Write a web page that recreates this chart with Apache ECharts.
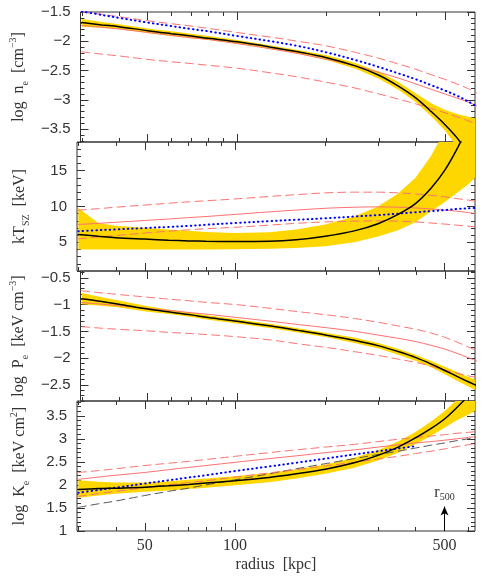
<!DOCTYPE html>
<html>
<head>
<meta charset="utf-8">
<script src="https://cdn.jsdelivr.net/npm/echarts@6/dist/echarts.min.js"></script>
<style>
  html, body { margin: 0; padding: 0; background: #fff; }
  #chart { width: 491px; height: 582px; }
</style>
</head>
<body>
<div id="chart"></div>
<script>
// radius grid (kpc) the curves were read at
const radius = [30, 35, 40, 50, 60, 70, 80, 100, 130, 160, 200, 250, 300, 350, 400, 450, 500, 550, 600, 640];

// log n_e
const neFit     = [-1.68, -1.72, -1.75, -1.82, -1.87, -1.91, -1.95, -2.01, -2.10, -2.18, -2.28, -2.42, -2.58, -2.77, -2.97, -3.20, -3.42, -3.65, -3.92, -4.15];
const neLow     = [-1.75, -1.77, -1.79, -1.86, -1.91, -1.95, -1.98, -2.04, -2.13, -2.21, -2.32, -2.47, -2.64, -2.83, -3.04, -3.28, -3.52, -3.80, -4.10, -4.40];
const neHigh    = [-1.62, -1.67, -1.71, -1.78, -1.83, -1.87, -1.91, -1.98, -2.07, -2.15, -2.24, -2.37, -2.52, -2.70, -2.89, -3.06, -3.17, -3.24, -3.29, -3.32];
const neModel   = [-1.73, -1.76, -1.79, -1.85, -1.90, -1.94, -1.97, -2.04, -2.13, -2.21, -2.31, -2.42, -2.53, -2.63, -2.73, -2.82, -2.90, -2.97, -3.04, -3.10];
const neModelHi = [-1.50, -1.54, -1.58, -1.65, -1.70, -1.74, -1.78, -1.85, -1.93, -2.00, -2.08, -2.19, -2.29, -2.39, -2.48, -2.57, -2.65, -2.73, -2.81, -2.88];
const neModelLo = [-2.18, -2.22, -2.25, -2.31, -2.35, -2.38, -2.41, -2.46, -2.54, -2.61, -2.70, -2.80, -2.90, -2.99, -3.07, -3.15, -3.22, -3.29, -3.36, -3.41];
const neXray    = [-1.49, -1.55, -1.60, -1.68, -1.74, -1.79, -1.83, -1.91, -2.00, -2.08, -2.19, -2.32, -2.44, -2.55, -2.65, -2.75, -2.84, -2.93, -3.03, -3.11];

// kT_SZ (keV)
const tFit     = [6.1, 5.85, 5.65, 5.45, 5.3, 5.2, 5.15, 5.12, 5.15, 5.35, 5.85, 6.6, 7.6, 8.9, 10.4, 12.5, 15.0, 18.0, 21.3, 24.0];
const tLow     = [4.0, 4.0, 4.0, 4.0, 4.0, 4.0, 4.0, 4.05, 4.1, 4.2, 4.45, 5.0, 5.8, 6.7, 7.8, 9.3, 10.6, 11.9, 13.1, 14.2];
const tHigh    = [9.8, 7.7, 7.3, 7.05, 6.8, 6.6, 6.45, 6.3, 6.4, 6.8, 7.5, 8.6, 10.0, 11.8, 14.0, 17.0, 20.5, 24.0, 28.0, 31.0];
const tModel   = [7.5, 7.65, 7.8, 8.05, 8.25, 8.45, 8.6, 8.9, 9.25, 9.5, 9.75, 9.9, 9.95, 9.9, 9.8, 9.65, 9.5, 9.35, 9.15, 9.0];
const tModelHi = [9.5, 9.7, 9.9, 10.2, 10.45, 10.65, 10.8, 11.05, 11.4, 11.65, 11.9, 12.0, 12.0, 11.9, 11.75, 11.55, 11.35, 11.1, 10.9, 10.7];
const tModelLo = [5.5, 5.75, 5.95, 6.3, 6.55, 6.75, 6.9, 7.1, 7.4, 7.65, 7.85, 7.95, 8.0, 7.95, 7.85, 7.7, 7.55, 7.4, 7.25, 7.15];
const tXray    = [6.55, 6.7, 6.8, 7.0, 7.15, 7.3, 7.45, 7.7, 7.95, 8.15, 8.35, 8.6, 8.8, 9.0, 9.2, 9.35, 9.5, 9.65, 9.75, 9.8];

// log P_e
const pFit     = [-0.89, -0.94, -0.99, -1.08, -1.14, -1.19, -1.24, -1.31, -1.40, -1.48, -1.57, -1.67, -1.77, -1.88, -1.99, -2.11, -2.23, -2.34, -2.44, -2.51];
const pLow     = [-0.99, -1.02, -1.05, -1.13, -1.18, -1.23, -1.28, -1.35, -1.44, -1.52, -1.61, -1.72, -1.82, -1.94, -2.05, -2.17, -2.30, -2.42, -2.53, -2.61];
const pHigh    = [-0.78, -0.86, -0.92, -1.03, -1.10, -1.15, -1.20, -1.27, -1.36, -1.44, -1.53, -1.62, -1.72, -1.83, -1.94, -2.05, -2.16, -2.26, -2.35, -2.41];
const pModel   = [-0.96, -0.99, -1.02, -1.07, -1.11, -1.15, -1.18, -1.24, -1.31, -1.37, -1.43, -1.50, -1.57, -1.63, -1.69, -1.76, -1.83, -1.91, -1.99, -2.05];
const pModelHi = [-0.74, -0.78, -0.81, -0.86, -0.90, -0.93, -0.96, -1.00, -1.07, -1.13, -1.19, -1.26, -1.33, -1.40, -1.46, -1.53, -1.61, -1.70, -1.79, -1.86];
const pModelLo = [-1.41, -1.44, -1.46, -1.49, -1.52, -1.54, -1.56, -1.60, -1.66, -1.73, -1.80, -1.88, -1.95, -2.02, -2.08, -2.15, -2.22, -2.28, -2.33, -2.36];

// log K_e
const kFit     = [1.90, 1.92, 1.93, 1.95, 1.98, 2.01, 2.04, 2.09, 2.16, 2.24, 2.34, 2.48, 2.64, 2.82, 3.02, 3.22, 3.43, 3.68, 3.93, 4.12];
const kLow     = [1.72, 1.77, 1.81, 1.85, 1.88, 1.91, 1.94, 1.99, 2.06, 2.14, 2.24, 2.37, 2.53, 2.70, 2.88, 3.06, 3.24, 3.40, 3.52, 3.62];
const kHigh    = [2.10, 2.07, 2.05, 2.05, 2.08, 2.11, 2.14, 2.19, 2.26, 2.34, 2.44, 2.59, 2.75, 2.94, 3.15, 3.37, 3.60, 3.85, 4.10, 4.30];
const kModel   = [2.12, 2.17, 2.21, 2.27, 2.33, 2.38, 2.42, 2.49, 2.57, 2.63, 2.70, 2.76, 2.82, 2.87, 2.91, 2.94, 2.97, 3.00, 3.03, 3.05];
const kModelHi = [2.27, 2.31, 2.35, 2.42, 2.47, 2.51, 2.55, 2.62, 2.70, 2.76, 2.82, 2.88, 2.94, 2.99, 3.03, 3.06, 3.09, 3.12, 3.14, 3.16];
const kModelLo = [1.75, 1.81, 1.86, 1.94, 2.00, 2.05, 2.09, 2.17, 2.26, 2.33, 2.41, 2.49, 2.56, 2.62, 2.68, 2.73, 2.78, 2.83, 2.87, 2.90];
const kBase    = [1.51, 1.59, 1.65, 1.77, 1.86, 1.93, 2.00, 2.11, 2.24, 2.35, 2.46, 2.57, 2.66, 2.73, 2.80, 2.86, 2.91, 2.96, 3.00, 3.04];
const kXray    = [1.83, 1.89, 1.94, 2.03, 2.10, 2.16, 2.21, 2.30, 2.40, 2.48, 2.57, 2.66, 2.73, 2.79, 2.84, null, null, null, null, null];

// axis ticks
const majorR = [50, 100, 500];
const minorR = [30, 40, 60, 70, 80, 90, 200, 300, 400, 600];
const r500 = 500;

const lg = Math.log10;
const xMin = lg(29.7), xMax = lg(632);
const GOLD = 'rgb(255,215,0)';
const RED = '#ff7070';
const AXC = '#333';

// panel layout
const panels = [
  { top: 12,  height: 130, min: -3.72, max: -1.5,  labels: [-3.5, -3, -2.5, -2, -1.5], minorStep: 0.1,
    name: '{t|log  n}{sub|e}{t|  [cm}{sup|−3}{t|]}' },
  { top: 142, height: 129, min: 1,     max: 19,    labels: [5, 10, 15], minorStep: 1,
    name: '{t|kT}{sub|SZ}{t|  [keV]}' },
  { top: 271, height: 130, min: -2.8,  max: -0.37, labels: [-2.5, -2, -1.5, -1, -0.5], minorStep: 0.1,
    name: '{t|log  P}{sub|e}{t|  [keV cm}{sup|−3}{t|]}' },
  { top: 401, height: 130, min: 1,     max: 3.82,  labels: [1, 1.5, 2, 2.5, 3, 3.5], minorStep: 0.1,
    name: '{t|log  K}{sub|e}{t|  [keV cm}{sup|2}{t|]}' }
];

function steps(min, max, step) {
  const out = [];
  const start = Math.ceil(min / step - 1e-9);
  for (let i = start; i * step <= max + 1e-9; i++) out.push(+(i * step).toFixed(4));
  return out;
}

const rich = {
  t: { fontFamily: 'Liberation Serif', fontSize: 16, color: AXC, lineHeight: 22 },
  sub: { fontFamily: 'Liberation Serif', fontSize: 10, color: AXC, verticalAlign: 'bottom', lineHeight: 10 },
  sup: { fontFamily: 'Liberation Serif', fontSize: 10, color: AXC, verticalAlign: 'top', lineHeight: 10 }
};

const grid = [], xAxis = [], yAxis = [];
panels.forEach((p, k) => {
  grid.push({ left: 77, right: 16, top: p.top, height: p.height, show: true,
    borderColor: AXC, borderWidth: 1, backgroundColor: 'transparent' });
  ['bottom', 'top'].forEach(pos => {
    [[majorR, 8], [minorR, 4]].forEach(([vals, len], j) => {
      const showLab = k === 3 && pos === 'bottom' && j === 0;
      xAxis.push({
        type: 'value', gridIndex: k, position: pos, min: xMin, max: xMax,
        axisLine: { show: false }, splitLine: { show: false },
        axisTick: { show: true, inside: true, length: len, customValues: vals.map(lg),
          lineStyle: { color: AXC, width: 1 } },
        axisLabel: showLab ? {
          show: true, customValues: vals.map(lg), margin: 7,
          fontFamily: 'Liberation Serif', fontSize: 16, color: AXC,
          formatter: v => String(Math.round(Math.pow(10, v)))
        } : { show: false },
        name: showLab ? 'radius  [kpc]' : '', nameLocation: 'middle', nameGap: 26,
        nameTextStyle: { fontFamily: 'Liberation Serif', fontSize: 16, color: AXC }
      });
    });
  });
  ['left', 'right'].forEach(pos => {
    [[p.labels, 8], [steps(p.min, p.max, p.minorStep), 4]].forEach(([vals, len], j) => {
      const showLab = pos === 'left' && j === 0;
      yAxis.push({
        type: 'value', gridIndex: k, position: pos, min: p.min, max: p.max,
        axisLine: { show: false }, splitLine: { show: false },
        axisTick: { show: true, inside: true, length: len, customValues: vals,
          lineStyle: { color: AXC, width: 1 } },
        axisLabel: showLab ? {
          show: true, customValues: vals, margin: 10,
          fontFamily: 'Liberation Sans', fontSize: 15, color: AXC,
          formatter: v => String(v).replace('-', '−')
        } : { show: false },
        name: showLab ? p.name : '', nameLocation: 'middle', nameRotate: 90, nameGap: 46,
        nameTextStyle: { rich: rich }
      });
    });
  });
});

// each grid k uses xAxis 4k and yAxis 4k
const pts = vals => radius.map((r, i) => [lg(r), vals[i]]);
const series = [];

// confidence band drawn as one clipped polygon between lo and hi
function band(k, lo, hi) {
  series.push({
    type: 'custom', xAxisIndex: 4 * k, yAxisIndex: 4 * k, silent: true, z: 1,
    data: [[lg(radius[0]), lo[0]]],
    renderItem: (params, api) => {
      const upper = radius.map((r, i) => api.coord([lg(r), hi[i]]));
      const lower = radius.map((r, i) => api.coord([lg(r), lo[i]])).reverse();
      const cs = params.coordSys;
      return {
        type: 'polygon',
        shape: { points: upper.concat(lower) },
        style: { fill: GOLD, stroke: null },
        clipPath: { type: 'rect', shape: { x: cs.x, y: cs.y, width: cs.width, height: cs.height } }
      };
    }
  });
}

function curve(k, vals, color, width, type, extra) {
  series.push(Object.assign({
    type: 'line', xAxisIndex: 4 * k, yAxisIndex: 4 * k, data: pts(vals),
    symbol: 'none', smooth: 0.35, connectNulls: false,
    lineStyle: { color: color, width: width, type: type, cap: 'round' }, z: 3, silent: true
  }, extra || {}));
}

const DASH = [8, 5];
const DOT = [0.5, 4];

// panel 1: n_e
band(0, neLow, neHigh);
curve(0, neModel, RED, 1, 'solid');
curve(0, neModelHi, RED, 1, DASH);
curve(0, neModelLo, RED, 1, DASH);
curve(0, neXray, '#0000ff', 2, DOT);
curve(0, neFit, '#000', 1.5, 'solid');

// panel 2: kT
band(1, tLow, tHigh);
curve(1, tModel, RED, 1, 'solid');
curve(1, tModelHi, RED, 1, DASH);
curve(1, tModelLo, RED, 1, DASH);
curve(1, tXray, '#0000ff', 2, DOT);
curve(1, tFit, '#000', 1.5, 'solid');

// panel 3: P_e
band(2, pLow, pHigh);
curve(2, pModel, RED, 1, 'solid');
curve(2, pModelHi, RED, 1, DASH);
curve(2, pModelLo, RED, 1, DASH);
curve(2, pFit, '#000', 1.5, 'solid');

// panel 4: K_e
band(3, kLow, kHigh);
curve(3, kBase, '#555', 1, DASH);
curve(3, kModel, RED, 1, 'solid');
curve(3, kModelHi, RED, 1, DASH);
curve(3, kModelLo, RED, 1, DASH);
curve(3, kXray, '#0000ff', 2, DOT);
curve(3, kFit, '#000', 1.5, 'solid', {
  markLine: {
    silent: true, symbol: ['none', 'arrow'], symbolSize: [6, 9],
    lineStyle: { color: '#000', width: 1, type: 'solid' },
    label: {
      show: true, position: 'end', distance: 4,
      formatter: '{r|r}{s|500}',
      rich: {
        r: { fontFamily: 'Liberation Serif', fontSize: 16, color: AXC, lineHeight: 20 },
        s: { fontFamily: 'Liberation Serif', fontSize: 10, color: AXC, verticalAlign: 'bottom', lineHeight: 10 }
      }
    },
    data: [[{ coord: [lg(r500), 1] }, { coord: [lg(r500), 1.53] }]]
  }
});

const chart = echarts.init(document.getElementById('chart'), null, { renderer: 'canvas' });
chart.setOption({
  animation: false,
  backgroundColor: '#fff',
  grid: grid,
  xAxis: xAxis,
  yAxis: yAxis,
  series: series
});
</script>
</body>
</html>
